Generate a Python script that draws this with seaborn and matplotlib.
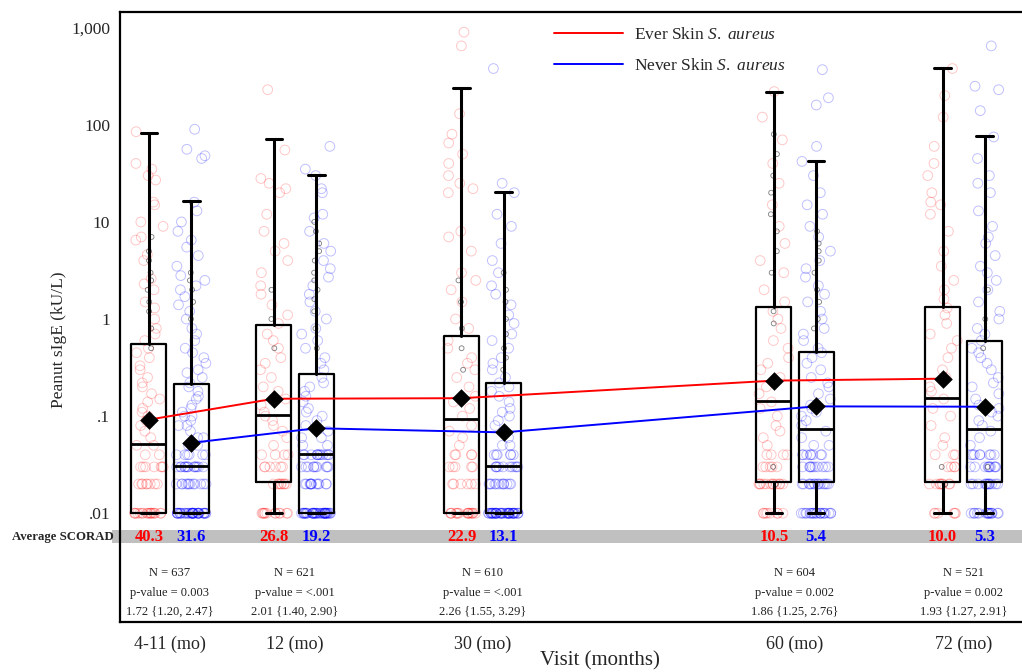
import numpy as np
import pandas as pd
import matplotlib
matplotlib.use("Agg")
import matplotlib.pyplot as plt
import matplotlib.transforms as mtransforms
from matplotlib.patches import Rectangle
import seaborn as sns

visits = ["4-11 (mo)", "12 (mo)", "30 (mo)", "60 (mo)", "72 (mo)"]

# box summaries (kU/L)
ever_q1 = [0.01, 0.021, 0.01, 0.021, 0.021]
ever_med = [0.052, 0.103, 0.094, 0.144, 0.155]
ever_q3 = [0.55, 0.87, 0.67, 1.32, 1.34]
ever_lo = [0.01, 0.01, 0.01, 0.01, 0.01]
ever_hi = [82, 71, 242, 217, 383]
ever_mean = [0.092, 0.151, 0.153, 0.232, 0.243]

never_q1 = [0.01, 0.01, 0.01, 0.021, 0.021]
never_med = [0.031, 0.041, 0.031, 0.073, 0.073]
never_q3 = [0.215, 0.274, 0.218, 0.455, 0.594]
never_lo = [0.01, 0.01, 0.01, 0.01, 0.01]
never_hi = [16.3, 30.2, 20.2, 42.4, 76.5]
never_mean = [0.053, 0.075, 0.068, 0.126, 0.125]

ever_scorad = [40.3, 26.8, 22.9, 10.5, 10.0]
never_scorad = [31.6, 19.2, 13.1, 5.4, 5.3]

n_obs = [637, 621, 610, 604, 521]
p_values = ["0.003", "<.001", "<.001", "0.002", "0.002"]
odds = [1.72, 2.01, 2.26, 1.86, 1.93]
ci_lo = [1.20, 1.40, 1.55, 1.25, 1.27]
ci_hi = [2.47, 2.90, 3.29, 2.76, 2.91]

# individual values (approximate)
ever_411 = [0.01]*18 + [0.02]*8 + [0.03]*7 + [0.04, 0.04, 0.05, 0.05, 0.06, 0.07, 0.08, 0.09, 0.1, 0.11, 0.12, 0.14, 0.15, 0.17, 0.2, 0.22, 0.25, 0.3, 0.33, 0.4, 0.45, 0.5, 0.6, 0.7, 0.8, 1.0, 1.3, 1.5, 2.0, 2.3, 2.6, 4.0, 4.6, 6.5, 7.0, 9.0, 10, 15, 16, 27, 30, 35, 40, 85]
never_411 = [0.01]*35 + [0.02]*12 + [0.03]*14 + [0.04]*6 + [0.05, 0.05, 0.06, 0.06, 0.07, 0.08, 0.08, 0.09, 0.1, 0.1, 0.11, 0.12, 0.13, 0.15, 0.16, 0.18, 0.2, 0.22, 0.25, 0.28, 0.3, 0.35, 0.4, 0.45, 0.5, 0.6, 0.7, 0.8, 1.0, 1.2, 1.4, 1.7, 2.0, 2.2, 2.5, 2.8, 3.5, 4.5, 5.5, 6.5, 8, 10, 13, 16, 45, 48, 56, 90]
ever_12 = [0.01]*12 + [0.02]*8 + [0.03]*6 + [0.04]*4 + [0.05, 0.06, 0.07, 0.08, 0.09, 0.1, 0.11, 0.13, 0.15, 0.18, 0.2, 0.25, 0.3, 0.35, 0.4, 0.5, 0.6, 0.7, 0.9, 1.1, 1.4, 1.8, 2.2, 3.0, 4.0, 5.0, 6.0, 8.0, 12, 20, 22, 25, 28, 55, 230]
never_12 = [0.01]*38 + [0.02]*12 + [0.03]*10 + [0.04]*12 + [0.05, 0.05, 0.06, 0.06, 0.07, 0.08, 0.09, 0.1, 0.11, 0.12, 0.14, 0.16, 0.18, 0.2, 0.22, 0.25, 0.3, 0.35, 0.4, 0.5, 0.6, 0.7, 0.8, 1.0, 1.2, 1.5, 1.8, 2.2, 2.7, 3.3, 4.0, 5.0, 6.0, 8.0, 11, 12, 20, 22, 30, 35, 60]
ever_30 = [0.01]*16 + [0.02]*6 + [0.03]*5 + [0.04]*4 + [0.05, 0.06, 0.07, 0.08, 0.1, 0.12, 0.14, 0.16, 0.2, 0.25, 0.3, 0.35, 0.4, 0.5, 0.6, 0.8, 1.0, 1.5, 2.0, 2.5, 3.0, 5.0, 7.0, 8.0, 20, 22, 25, 30, 40, 50, 65, 80, 130, 650, 900]
never_30 = [0.01]*40 + [0.02]*12 + [0.03]*10 + [0.04]*6 + [0.05, 0.05, 0.06, 0.07, 0.08, 0.09, 0.1, 0.11, 0.12, 0.14, 0.16, 0.18, 0.2, 0.22, 0.25, 0.3, 0.35, 0.4, 0.5, 0.6, 0.7, 0.9, 1.1, 1.4, 1.8, 2.2, 3.0, 4.0, 6.0, 9.0, 12, 20, 25, 380]
ever_60 = [0.01]*8 + [0.02]*12 + [0.03]*5 + [0.04]*4 + [0.05, 0.06, 0.07, 0.08, 0.1, 0.12, 0.14, 0.17, 0.2, 0.25, 0.3, 0.35, 0.4, 0.5, 0.6, 0.8, 1.0, 1.2, 1.5, 2.0, 3.0, 4.0, 6.0, 9.0, 15, 25, 40, 70, 120, 220]
never_60 = [0.01]*20 + [0.02]*14 + [0.03]*10 + [0.04]*8 + [0.05, 0.05, 0.06, 0.07, 0.08, 0.09, 0.1, 0.11, 0.12, 0.13, 0.15, 0.17, 0.2, 0.22, 0.25, 0.3, 0.35, 0.4, 0.45, 0.5, 0.6, 0.7, 0.8, 1.0, 1.2, 1.5, 1.8, 2.2, 2.7, 3.3, 4.0, 5.0, 7.0, 9.0, 12, 15, 20, 30, 42, 60, 160, 190, 370]
ever_72 = [0.01]*6 + [0.02]*8 + [0.03]*4 + [0.04]*3 + [0.05, 0.06, 0.08, 0.1, 0.12, 0.15, 0.18, 0.2, 0.25, 0.3, 0.4, 0.5, 0.6, 0.7, 0.9, 1.1, 1.3, 1.6, 2.0, 2.5, 3.5, 5.0, 8.0, 12, 15, 16, 20, 30, 40, 60, 120, 200, 380]
never_72 = [0.01]*16 + [0.02]*12 + [0.03]*10 + [0.04]*8 + [0.05, 0.06, 0.07, 0.08, 0.09, 0.1, 0.11, 0.12, 0.13, 0.15, 0.17, 0.2, 0.22, 0.25, 0.3, 0.35, 0.4, 0.45, 0.5, 0.6, 0.7, 0.8, 1.0, 1.2, 1.5, 2.0, 2.5, 3.0, 3.5, 4.5, 6.0, 7.0, 9.0, 13, 20, 25, 30, 45, 75, 140, 230, 250, 650]

gray_ever = [[0.5, 0.8, 1.2, 1.5, 2, 2.5, 3, 4, 5, 7], [0.5, 1, 2], [0.3, 0.5, 0.8, 1.5, 2.5], [0.02, 0.03, 0.9, 1.2, 3, 5, 8, 12, 20, 30, 50, 80], [0.02, 0.03]]
gray_never = [[1, 1.5, 2, 2.5, 3], [0.5, 0.8, 1.2, 1.6, 2, 2.5, 3, 4, 5, 6, 8, 10], [0.3, 0.4, 0.5, 0.7, 1, 1.5, 2, 3], [0.8, 1, 1.5, 2, 3, 4, 5, 6, 8], [0.03, 0.5, 1, 2]]

ever_pts = [ever_411, ever_12, ever_30, ever_60, ever_72]
never_pts = [never_411, never_12, never_30, never_60, never_72]

# layout
visit_x = np.array([0, 2, 5, 10, 12.7])
off = 0.337
ever_x = visit_x - off
never_x = visit_x + off

sns.set_style("white")
plt.rcParams["font.family"] = ["Liberation Serif", "DejaVu Serif"]
plt.rcParams["mathtext.fontset"] = "custom"
plt.rcParams["mathtext.rm"] = "Liberation Serif"
plt.rcParams["mathtext.it"] = "Liberation Serif:italic"

fig = plt.figure(figsize=(10.22, 6.72), dpi=100)
ax = fig.add_axes([120/1022, 50/672, 960/1022, 610/672])
np.random.seed(3)


def strip(xs, groups, rgba, size, spread, lw):
    df = pd.DataFrame({"x": np.repeat(xs, [len(g) for g in groups]),
                       "val": np.concatenate(groups)})
    width = np.diff(np.unique(df["x"])).min()
    n0 = len(ax.collections)
    sns.stripplot(data=df, x="x", y="val", native_scale=True, orient="x",
                  jitter=spread / width, color=rgba[:3], size=size, ax=ax, zorder=1)
    for c in ax.collections[n0:]:
        c.set_facecolor("none")
        c.set_edgecolor(rgba)
        c.set_linewidth(lw)


strip(ever_x, ever_pts, (1, 0, 0, 0.22), 7, 0.24, 0.7)
strip(never_x, never_pts, (0, 0, 1, 0.25), 7, 0.24, 0.7)
strip(ever_x, gray_ever, (0.15, 0.15, 0.15, 0.6), 3.5, 0.05, 0.6)
strip(never_x, gray_never, (0.15, 0.15, 0.15, 0.6), 3.5, 0.05, 0.6)

ax.set_yscale("log")

stats = []
for i in range(len(visits)):
    stats.append(dict(q1=ever_q1[i], med=ever_med[i], q3=ever_q3[i],
                      whislo=ever_lo[i], whishi=ever_hi[i], label=""))
    stats.append(dict(q1=never_q1[i], med=never_med[i], q3=never_q3[i],
                      whislo=never_lo[i], whishi=never_hi[i], label=""))
pos = np.ravel(np.column_stack([ever_x, never_x]))
ax.bxp(stats, positions=pos, widths=0.56, capwidths=0.27, showfliers=False,
       manage_ticks=False, zorder=2,
       boxprops=dict(color="black", lw=1.6),
       medianprops=dict(color="black", lw=2),
       whiskerprops=dict(color="black", lw=2.2),
       capprops=dict(color="black", lw=2.2))

sns.lineplot(x=ever_x, y=ever_mean, color="red", lw=1.4, ax=ax, zorder=3,
             label=r"Ever Skin $\it{S.}$ $\it{aureus}$")
sns.lineplot(x=never_x, y=never_mean, color="blue", lw=1.4, ax=ax, zorder=3,
             label=r"Never Skin $\it{S.}$ $\it{aureus}$")
sns.scatterplot(x=np.concatenate([ever_x, never_x]), y=ever_mean + never_mean,
                marker="D", color="black", s=90, linewidth=0, zorder=4,
                legend=False, ax=ax)

ax.set_ylim(0.000758, 1452)
ax.set_yticks([0.01, 0.1, 1, 10, 100, 1000])
ax.set_yticklabels([".01", ".1", "1", "10", "100", "1,000"])
ax.yaxis.set_minor_locator(matplotlib.ticker.NullLocator())
ax.set_xlim(-0.8, 14.56)
ax.set_xticks(visit_x)
ax.set_xticklabels(visits)
ax.tick_params(length=0)
ax.tick_params(axis="y", labelsize=12.5, pad=7)
ax.tick_params(axis="x", labelsize=13, pad=10)

ax.set_ylabel("Peanut sIgE (kU/L)", fontsize=12.5)
ax.yaxis.set_label_coords(-0.055, 0.462)
ax.set_xlabel("Visit (months)", fontsize=15)
ax.xaxis.set_label_coords(0.5, -0.048)

for s in ["left", "top", "bottom"]:
    ax.spines[s].set_linewidth(1.6)
    ax.spines[s].set_color("black")
ax.spines["right"].set_visible(False)

# SCORAD band and stats under the boxes
ax.add_patch(Rectangle((-0.008, 0.1295), 1.008, 0.0213, transform=ax.transAxes,
                       color="#c0c0c0", clip_on=False, zorder=0.5, lw=0))
ax.text(-0.007, 0.139, "Average SCORAD", transform=ax.transAxes, ha="right",
        va="center", fontsize=9.2, fontweight="bold")
trans = mtransforms.blended_transform_factory(ax.transData, ax.transAxes)
for i in range(len(visits)):
    ax.text(ever_x[i], 0.139, f"{ever_scorad[i]:.1f}", transform=trans, color="red",
            fontsize=12, fontweight="bold", ha="center", va="center")
    ax.text(never_x[i], 0.139, f"{never_scorad[i]:.1f}", transform=trans, color="blue",
            fontsize=12, fontweight="bold", ha="center", va="center")
    ax.text(visit_x[i], 0.081, f"N = {n_obs[i]}", transform=trans,
            fontsize=9, ha="center", va="center", color="#222222")
    ax.text(visit_x[i], 0.047, f"p-value = {p_values[i]}", transform=trans,
            fontsize=9, ha="center", va="center", color="#222222")
    ax.text(visit_x[i], 0.017, f"{odds[i]:.2f} {{{ci_lo[i]:.2f}, {ci_hi[i]:.2f}}}",
            transform=trans, fontsize=9, ha="center", va="center", color="#222222")

ax.legend(loc="upper left", bbox_to_anchor=(0.452, 0.976), frameon=False, fontsize=12.5,
          handlelength=4, handletextpad=0.6, labelspacing=0.85, borderaxespad=0,
          borderpad=0)

fig.savefig("out.png", dpi=100)
